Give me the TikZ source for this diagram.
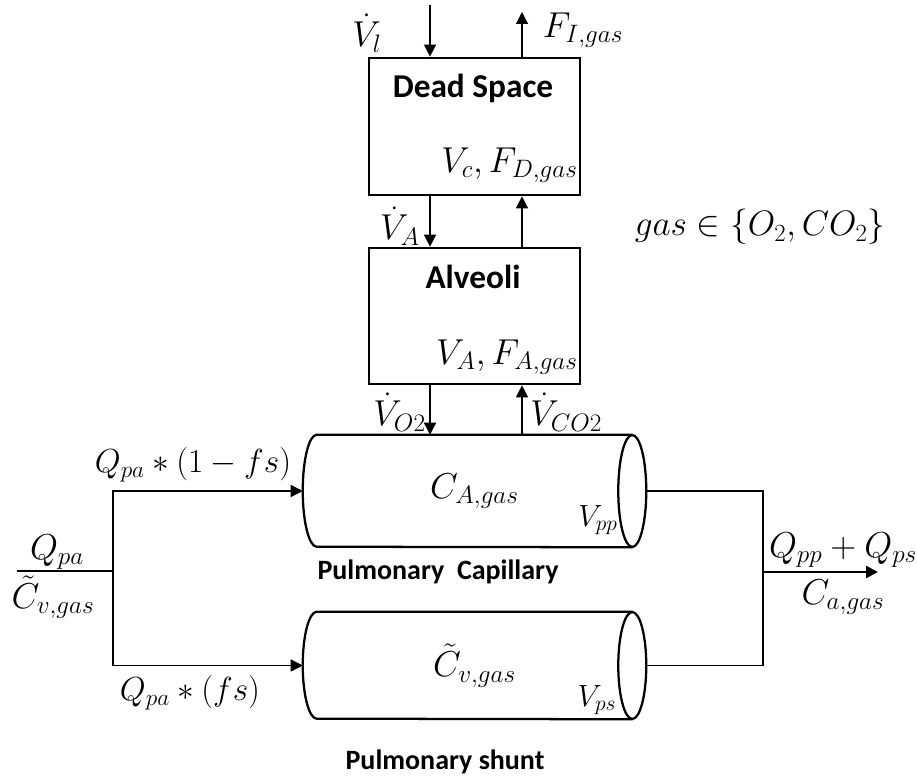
\RequirePackage{fix-cm}
\documentclass[tikz,border=0pt]{standalone}
\usepackage{amsmath}
\usepackage{fontspec}
\newfontfamily\calib{Carlito}
\usetikzlibrary{arrows.meta, positioning, calc}

\tikzset{
  comp/.style={draw, line width=2pt, minimum width=158.25pt, minimum height=102.75pt, inner sep=0pt},
  title/.style={font=\calib\bfseries\fontsize{25}{30}\selectfont},
  caption/.style={font=\calib\bfseries\fontsize{21}{25}\selectfont},
  mlab/.style={font=\fontsize{27}{31}\selectfont, inner sep=0pt},
  flab/.style={font=\fontsize{25}{29}\selectfont, inner sep=0pt},
  slab/.style={font=\fontsize{23}{27}\selectfont, inner sep=0pt},
  vessel/.style={inner sep=0pt, minimum width=257.25pt, font=\fontsize{27}{31}\selectfont},
  flow/.style={line width=1pt, -{Triangle[length=9pt,width=9pt]}},
  pipe/.style={line width=1pt},
  tube/.style={line width=1.7pt},
}

\begin{document}
\begin{tikzpicture}[x=0.75pt, y=-0.75pt]
\useasboundingbox (0,0) rectangle (917,781);

% lung compartments
\node[comp] (dead) at (474.5,126.5) {};
\node[comp, minimum height=102pt] (alv) at (474.5,316) {};
\node[title] at (473,88) {Dead Space};
\node[title] at (473,277) {Alveoli};
\node[mlab, anchor=east] at (578,165) {$V_c, F_{D,gas}$};
\node[mlab, anchor=east] at (578,357) {$V_A, F_{A,gas}$};

% blood vessels
\node[vessel, minimum height=84pt] (cap) at (474.5,491) {$C_{A,gas}$};
\node[vessel, minimum height=80.25pt] (shunt) at (474.5,665.5) {$\tilde{C}_{v,gas}$};
\foreach \n/\ry in {cap/42pt, shunt/40.1pt} {
  \draw[tube] ($(\n.north east)+(-14,0)$) -- ($(\n.north west)+(14,0)$)
    arc[start angle=90, end angle=270, x radius=10.5pt, y radius=\ry]
    -- ($(\n.south east)+(-14,0)$);
  \draw[tube] ($(\n.east)+(-14,0)$) ellipse[x radius=10.5pt, y radius=\ry];
}
\node[slab] at (598,520) {$V_{pp}$};
\node[slab] at (597,700) {$V_{ps}$};
\node[caption] at (438,572) {Pulmonary\ \ Capillary};
\node[caption] at (445,762) {Pulmonary shunt};

% gas exchange
\coordinate (inhale) at (430,5);
\coordinate (exhale) at (522,12);
\draw[flow] (inhale) -- (inhale |- dead.north);
\draw[flow] (exhale |- dead.north) -- (exhale);
\draw[flow] (inhale |- dead.south) -- (inhale |- alv.north);
\draw[flow] (exhale |- alv.north) -- (exhale |- dead.south);
\draw[flow] (inhale |- alv.south) -- (inhale |- cap.north);
\draw[flow] (exhale |- cap.north) -- (exhale |- alv.south);
\node[mlab] at (367,33) {$\dot{V}_l$};
\node[mlab] at (583,30) {$F_{I,gas}$};
\node[mlab] at (400,226) {$\dot{V}_A$};
\node[mlab, anchor=east] at (426,412) {$\dot{V}_{O2}$};
\node[mlab, anchor=west] at (530,412) {$\dot{V}_{CO2}$};
\node[font=\fontsize{26.5}{31}\selectfont] at (760,227) {$gas \in \{O_2, CO_2\}$};

% blood flow
\coordinate (inlet) at (17,571);
\coordinate (split) at (113,571);
\coordinate (merge) at (763,572);
\coordinate (outlet) at (878,572);
\draw[pipe] (inlet) -- (split);
\draw[flow] (split) |- (cap.west);
\draw[flow] (split) |- (shunt.west);
\draw[pipe] (cap.east) -| (merge);
\draw[pipe] (shunt.east) -| (merge);
\draw[flow, line width=1.7pt] (merge) -- (outlet);
\node[mlab] at (57,552) {$Q_{pa}$};
\node[mlab] at (53,597) {$\tilde{C}_{v,gas}$};
\node[flab] at (193,465) {$Q_{pa} * (1 - fs)$};
\node[flab] at (190,693) {$Q_{pa} * (fs)$};
\node[mlab] at (843,550) {$Q_{pp} + Q_{ps}$};
\node[mlab] at (843,597) {$C_{a,gas}$};
\end{tikzpicture}
\end{document}
